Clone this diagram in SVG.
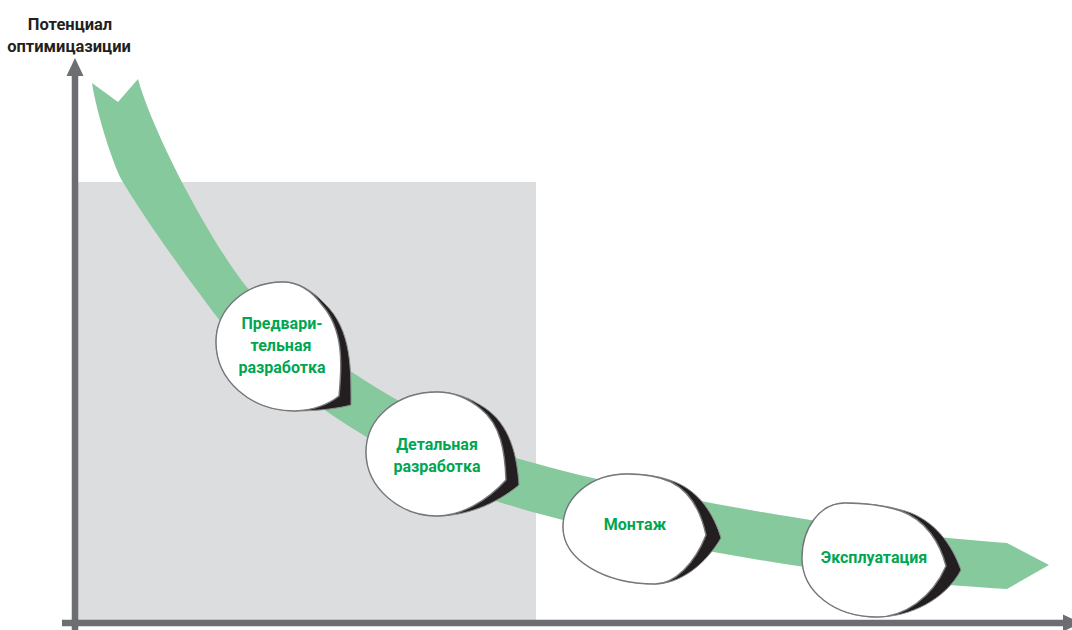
<svg xmlns="http://www.w3.org/2000/svg" width="1072" height="630" viewBox="0 0 1072 630">
<style>
.bg{fill:#ffffff}
.zone{fill:#dcdddf}
.band{fill:#85c99d}
.axis{stroke:#6d6e71;stroke-width:6.5;fill:none}
.head{fill:#6d6e71}
.shadow{fill:#231f20;stroke:#8a8c8e;stroke-width:1}
.face{fill:#ffffff;stroke:#77787b;stroke-width:1.4}
.label{font-family:Roboto,"Liberation Sans",sans-serif;font-weight:700;font-size:16px;fill:#00a651;text-anchor:middle}
.title{font-family:Roboto,"Liberation Sans",sans-serif;font-weight:700;font-size:16.5px;fill:#231f20;text-anchor:middle}
</style>
<rect class="bg" x="0" y="0" width="1072" height="630"/>
<rect class="zone" x="78" y="182" width="458" height="438"/>
<g id="connectors">
  <path id="band" class="band" d="M138,79 C152,130 205,233 245,285 C295,345 433,427 513,457 C633,493 857,533 1007,543 L1049,565 L1007,589 C857,582 603,537 493,500 C413,473 267,382 217,317 C185,275 140,212 120,177 C110,155 96,110 92,83 L118,102 Z"/>
  <g id="axes">
    <line class="axis" x1="75" y1="72" x2="75" y2="630"/>
    <polygon class="head" points="75,58 83.5,76 66.5,76"/>
    <line class="axis" x1="62" y1="623" x2="1066" y2="623"/>
    <polygon class="head" points="1063,614.5 1081,623 1063,631.5"/>
  </g>
</g>
<g id="axis-title">
  <text class="title" x="70" y="30">Потенциал</text>
  <text class="title" x="69" y="52">оптимицазиции</text>
</g>
<g id="node-predvaritelnaya">
  <path class="shadow" d="M351,405 C351,370 352,330 325,304 C312,290 298,282 283,282 C246,282 216,308 216,342 C216,380 250,411 295,411 C320,411 340,408 351,405 Z"/>
  <path class="face" d="M339,396 C342,365 344,330 322,305 C311,290 298,282 283,282 C246,282 216,308 216,342 C216,380 250,411 295,411 C315,410 329,404 339,396 Z"/>
  <text class="label" x="282" y="329">Предвари-</text>
  <text class="label" x="281" y="351">тельная</text>
  <text class="label" x="282" y="373">разработка</text>
</g>
<g id="node-detalnaya">
  <path class="shadow" d="M519,485 C517,455 510,425 485,408 C470,398 455,392 437,392 C397,392 366,418 366,452 C366,488 400,516 437,516 C465,516 495,505 519,485 Z"/>
  <path class="face" d="M506,480 C505,452 501,425 481,409 C468,398 455,392 437,392 C397,392 366,418 366,452 C366,488 400,516 437,516 C461,516 487,501 506,480 Z"/>
  <text class="label" x="437" y="450">Детальная</text>
  <text class="label" x="437" y="472">разработка</text>
</g>
<g id="node-montazh">
  <path class="shadow" d="M721,538 C714,515 700,492 675,482 C660,476 645,474 627,474 C590,474 563,498 563,527 C563,560 605,584 655,584 C680,584 705,565 721,538 Z"/>
  <path class="face" d="M706,535 C701,512 691,492 671,482 C658,476 645,474 627,474 C590,474 563,498 563,527 C563,560 605,584 655,584 C675,584 695,563 706,535 Z"/>
  <text class="label" x="635" y="530">Монтаж</text>
</g>
<g id="node-ekspluatatsiya">
  <path class="shadow" d="M961,570 C952,545 935,520 905,511 C885,505 865,503 845,503 C820,503 802,528 802,558 C802,592 835,617 877,617 C910,617 945,600 961,570 Z"/>
  <path class="face" d="M946,566 C940,543 926,520 901,511 C883,505 865,503 845,503 C820,503 802,528 802,558 C802,592 835,617 877,617 C904,617 932,598 946,566 Z"/>
  <text class="label" x="874" y="563">Эксплуатация</text>
</g>
</svg>
